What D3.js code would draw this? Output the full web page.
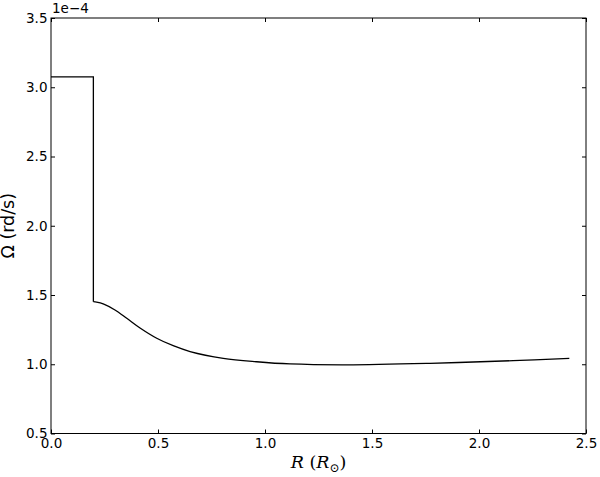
<!DOCTYPE html>
<html>
<head>
<meta charset="utf-8">
<script src="https://cdn.jsdelivr.net/npm/d3@7"></script>
<style>
  body { margin: 0; background: #fff; }
  text { font-family: "DejaVu Sans", sans-serif; }
</style>
</head>
<body>
<div id="my_dataviz"></div>
<script>

// radius in solar radii, rotation rate in units of 1e-4 rd/s
var coreR     = [0.0, 0.198]
var coreOmega = [3.075, 3.075]
var envR      = [0.198, 0.213, 0.244, 0.299, 0.354, 0.416, 0.494, 0.571, 0.65, 0.805, 0.961, 1.117, 1.382, 1.771, 2.16, 2.422]
var envOmega  = [1.452, 1.449, 1.436, 1.392, 1.332, 1.262, 1.188, 1.134, 1.092, 1.043, 1.018, 1.002, 0.996, 1.007, 1.026, 1.043]

var xTicks = [0.0, 0.5, 1.0, 1.5, 2.0, 2.5]
var yTicks = [0.5, 1.0, 1.5, 2.0, 2.5, 3.0, 3.5]

// set the dimensions and margins of the graph
var margin = {top: 18, right: 14, bottom: 43.5, left: 51},
    width = 600 - margin.left - margin.right,
    height = 477 - margin.top - margin.bottom;

var svg = d3.select("#my_dataviz")
  .append("svg")
    .attr("width", 600)
    .attr("height", 477)
  .append("g")
    .attr("transform", "translate(" + margin.left + "," + margin.top + ")");

var x = d3.scaleLinear().domain([0, 2.5]).range([0, width]);
var y = d3.scaleLinear().domain([0.5, 3.5]).range([height, 0]);

// axes, ticks pointing inwards on all four sides
function styleAxis(g) {
  g.select(".domain").remove();
  g.selectAll(".tick line").attr("stroke", "#000");
  g.selectAll("text").attr("fill", "#000").style("font-size", "13.5px");
}

svg.append("g")
    .attr("transform", "translate(0," + height + ")")
    .call(d3.axisBottom(x).tickValues(xTicks).tickFormat(d3.format(".1f"))
      .tickSizeInner(-4).tickSizeOuter(0).tickPadding(4.5))
    .call(styleAxis);

svg.append("g")
    .call(d3.axisTop(x).tickValues(xTicks).tickFormat("")
      .tickSizeInner(-4).tickSizeOuter(0))
    .call(styleAxis);

svg.append("g")
    .call(d3.axisLeft(y).tickValues(yTicks).tickFormat(d3.format(".1f"))
      .tickSizeInner(-4).tickSizeOuter(0).tickPadding(3.5))
    .call(styleAxis);

svg.append("g")
    .attr("transform", "translate(" + width + ",0)")
    .call(d3.axisRight(y).tickValues(yTicks).tickFormat("")
      .tickSizeInner(-4).tickSizeOuter(0))
    .call(styleAxis);

// frame
svg.append("rect")
    .attr("width", width)
    .attr("height", height)
    .attr("fill", "none")
    .attr("stroke", "#000")
    .attr("stroke-width", 1);

// the rotation profile: flat core, jump, then the envelope
var line = d3.line()
    .x(function(d) { return x(d[0]) })
    .y(function(d) { return y(d[1]) });

svg.append("path")
    .datum(coreR.map(function(r, i) { return [r, coreOmega[i]] }).concat([[envR[0], envOmega[0]]]))
    .attr("fill", "none")
    .attr("stroke", "#000")
    .attr("stroke-width", 1.3)
    .attr("d", line);

svg.append("path")
    .datum(envR.map(function(r, i) { return [r, envOmega[i]] }))
    .attr("fill", "none")
    .attr("stroke", "#000")
    .attr("stroke-width", 1.3)
    .attr("d", line.curve(d3.curveCatmullRom.alpha(0.5)));

// offset text
svg.append("text")
    .attr("x", 1)
    .attr("y", -5)
    .style("font-size", "13.5px")
    .text("1e\u22124");

// axis labels
svg.append("text")
    .attr("transform", "translate(-37," + (height / 2) + ") rotate(-90)")
    .attr("text-anchor", "middle")
    .style("font-size", "17.5px")
    .text("\u03A9 (rd/s)");

var xl = svg.append("text")
    .attr("x", width / 2)
    .attr("y", height + 34)
    .attr("text-anchor", "middle")
    .style("font-family", "'DejaVu Serif', serif")
    .style("font-size", "17.5px");
xl.append("tspan").style("font-style", "italic").text("R");
xl.append("tspan").text(" (");
xl.append("tspan").style("font-style", "italic").text("R");
xl.append("tspan").attr("dy", 4).style("font-size", "12px").text("\u2299");
xl.append("tspan").attr("dy", -4).text(")");

</script>
</body>
</html>
